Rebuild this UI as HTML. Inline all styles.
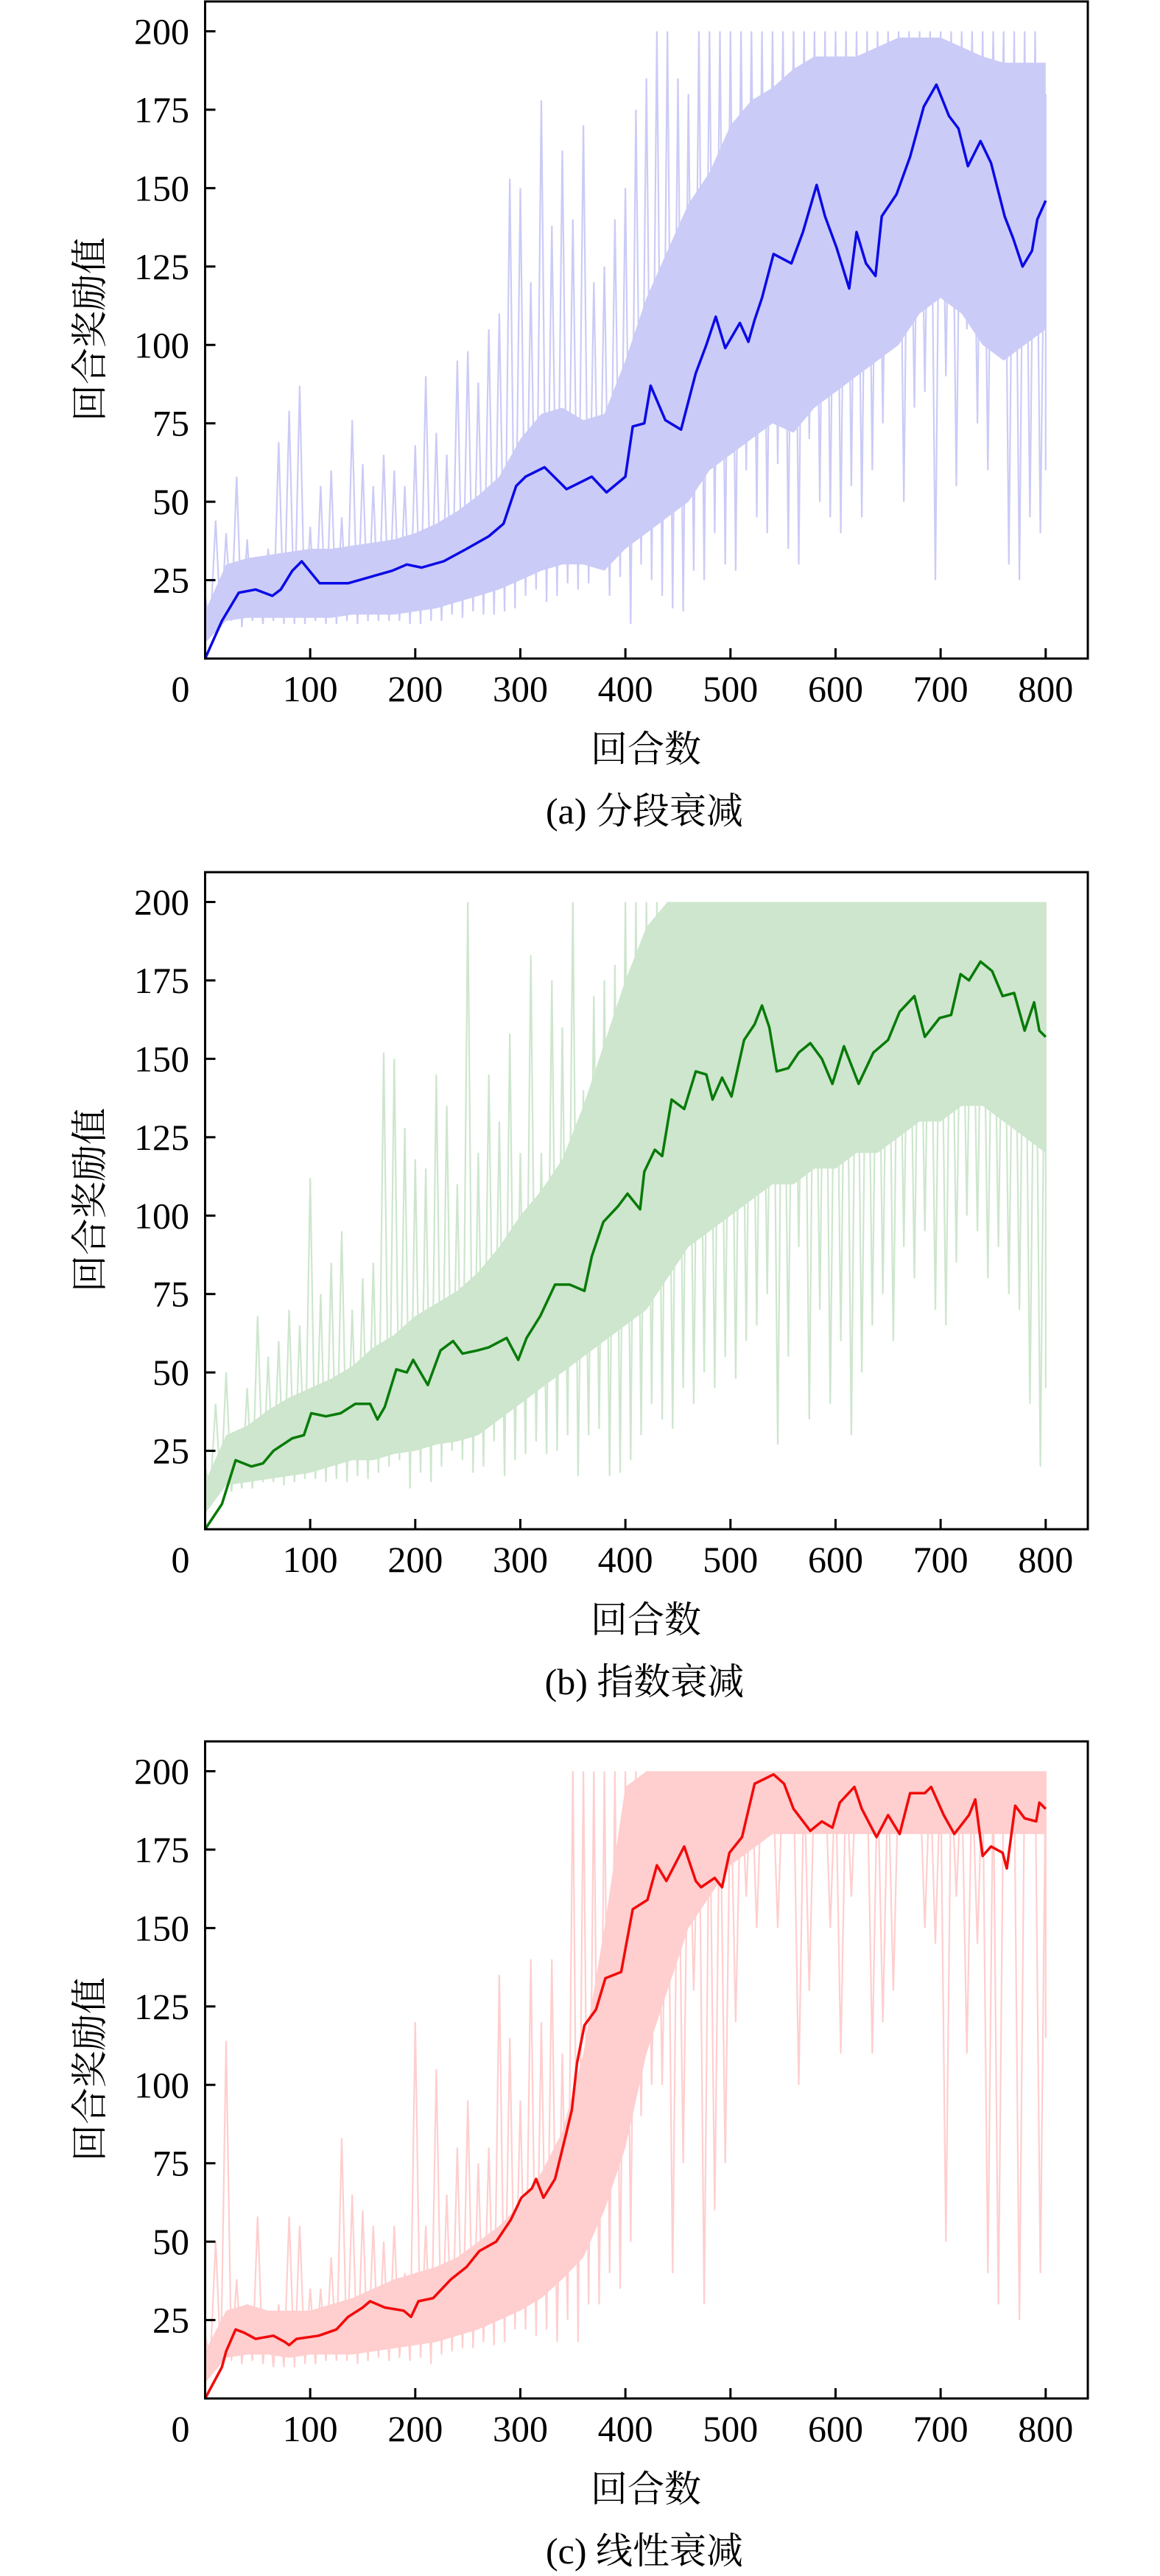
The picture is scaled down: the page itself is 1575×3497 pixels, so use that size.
<!DOCTYPE html>
<html><head><meta charset="utf-8"><style>
html,body{margin:0;padding:0;background:#fff;}
svg{display:block;}
text{font-family:"Liberation Serif","Noto Serif CJK SC","Noto Sans CJK SC",serif;fill:#000;}
</style></head><body>
<svg id="fig" width="1575" height="3497" viewBox="0 0 1575 3497" xmlns="http://www.w3.org/2000/svg"></svg>
<script>
// ---- shared tick data ----
const xTicks = [0,100,200,300,400,500,600,700,800];
const yTicks = [25,50,75,100,125,150,175,200];
const stepEps = [0,10,20,30,40,50,60,70,80,90,100,110,120,130,140,150,160,170,180,190,200,210,220,230,240,250,260,270,280,290,300,310,320,330,340,350,360,370,380,390,400,410,420,430,440,450,460,470,480,490,500,510,520,530,540,550,560,570,580,590,600,610,620,630,640,650,660,670,680,690,700,710,720,730,740,750,760,770,780,790,800];
const bandEps = [0,20,40,60,80,100,120,140,160,180,200,220,240,260,280,300,320,340,360,380,400,420,440,460,480,500,520,540,560,580,600,620,640,660,680,700,720,740,760,780,800];

// ---- chart (a) ----
const aSmoothEps = [0,16,32,48,64,72,83,92,109,136,157,178,192,206,227,249,270,284,296,305,323,344,368,382,400,407,418,424,438,453,467,477,486,495,509,517,523,530,541,558,569,582,590,601,613,620,629,638,644,658,671,684,696,708,717,726,738,748,761,769,778,787,792,800];
const aSmoothVals = [0,12,21,22,20,22,28,31,24,24,26,28,30,29,31,35,39,43,55,58,61,54,58,53,58,74,75,87,76,73,91,100,109,99,107,101,108,115,129,126,136,151,141,131,118,136,126,122,141,148,160,176,183,173,169,157,165,158,141,134,125,130,140,146];
const aBandLo = [5,12,13,13,13,13,13,14,14,14,15,16,18,20,22,25,28,30,30,28,35,40,45,50,60,65,70,75,72,80,85,90,95,100,110,115,110,100,95,100,105];
const aBandHi = [15,30,32,33,34,35,35,36,37,38,40,43,47,52,58,70,78,80,76,78,95,115,130,145,155,170,178,182,188,192,192,192,195,198,198,198,195,192,190,190,190];
const aSpikeHi = [20,44,40,58,38,30,35,69,79,87,42, 55,60,45,76,62,55,65,60,55,68, 90,72,65,95,98,88,105,110,153,150, 120,178,138,162,140,170,120,125,140,150, 175,185,200,200,185,180,200,200,200,200, 200,200,200,200,200,200,200,200,200,200, 200,200,200,200,200,200,200,200,200,200, 200,200,200,200,200,200,200,200,200,180];
const aSpikeLo = [10,10,12,10,12,11,12,11,11,11,12, 11,11,12,11,12,12,12,12,11,11, 12,12,14,13,15,14,14,15,16,20, 22,18,20,24,22,24,30,20,26,11, 30,25,20,16,15,28,25,40,30,28, 60,45,40,62,35,30,70,50,45,40, 55,45,60,75,110,50,80,85,25,90, 55,105,75,60,100,30,25,45,40,60];

// ---- chart (b) ----
const bSmoothEps = [0,16,29,44,55,65,83,94,101,115,129,143,157,164,171,182,192,198,212,224,236,245,259,270,287,298,306,319,333,347,361,368,379,393,402,414,418,428,435,444,456,467,477,483,492,501,513,523,530,537,544,555,565,576,587,597,608,622,636,650,661,675,685,699,710,719,727,738,749,759,770,780,789,794,800];
const bSmoothVals = [0,8,22,20,21,25,29,30,37,36,37,40,40,35,39,51,50,54,46,57,60,56,57,58,61,54,61,68,78,78,76,87,98,103,107,102,114,121,119,137,134,146,145,137,144,138,156,161,167,160,146,147,152,155,150,142,154,142,152,156,165,170,157,163,164,177,175,181,178,170,171,159,168,159,157];
const bBandLo = [5,14,15,16,17,18,20,22,22,24,25,27,28,30,35,40,45,50,55,60,65,70,80,90,95,100,105,110,110,115,115,120,120,125,130,130,135,135,130,125,120];
const bBandHi = [15,30,33,38,42,45,48,52,58,62,68,72,76,82,90,100,108,118,135,155,175,192,200,200,200,200,200,200,200,200,200,200,200,200,200,200,200,200,200,200,200];
const bSpikeHi = [20,40,50,30,45,68,55,60,70,65,112, 75,85,95,70,80,85,152,150,128,118, 115,145,135,110,200,120,145,130,158,120, 183,120,175,160,200,140,170,175,180,200, 200,200,200,200,200,200,200,200,200,200, 200,200,200,200,200,200,200,200,200,200, 200,200,200,200,200,200,200,200,200,200, 200,200,200,200,200,200,200,200,200,200];
const bSpikeLo = [12,12,12,13,13,15,15,14,15,16,16, 15,16,15,17,16,18,20,22,13,18, 15,20,25,22,18,20,28,17,22,24, 28,24,25,30,17,30,32,17,18,22, 30,40,35,32,45,40,50,45,55,48, 60,65,75,27,55,90,35,70,40,60, 30,50,65,75,60,90,80,95,70,65, 85,100,95,80,90,75,70,40,20,45];

// ---- chart (c) ----
const cSmoothEps = [0,16,20,29,37,48,65,76,80,87,108,125,136,150,157,171,189,196,203,217,234,249,261,277,291,301,311,315,322,333,344,349,354,361,372,381,396,407,421,430,439,456,467,472,485,492,499,511,523,541,551,560,576,587,597,604,618,625,639,650,661,671,685,691,703,713,727,733,740,748,759,763,771,780,791,794,800];
const cSmoothVals = [0,10,15,22,21,19,20,18,17,19,20,22,26,29,31,29,28,26,31,32,38,42,47,50,57,64,67,70,64,70,85,92,107,119,124,134,136,156,159,170,165,176,165,163,166,163,174,179,196,199,196,188,181,184,182,190,195,188,179,186,180,193,193,195,186,180,186,191,173,176,174,169,189,185,184,190,188];
const cBandLo = [5,13,14,14,13,14,14,14,15,16,17,18,20,22,25,28,32,38,45,60,80,110,130,150,160,170,175,180,180,180,180,180,180,180,180,180,180,180,180,180,180];
const cBandHi = [15,28,30,28,28,28,30,32,35,38,40,42,45,50,55,62,72,85,110,150,195,200,200,200,200,200,200,200,200,200,200,200,200,200,200,200,200,200,200,200,200];
const cSpikeHi = [20,50,114,38,30,58,28,30,58,55,35, 35,45,83,65,60,55,50,55,40,120, 55,105,65,80,95,75,80,135,115,95, 140,120,140,110,200,200,200,200,200,200, 200,200,200,200,200,200,200,200,200,200, 200,200,200,200,200,200,200,200,200,200, 200,200,200,200,200,200,200,200,200,200, 200,200,200,200,200,200,200,200,200,200];
const cSpikeLo = [12,12,12,11,12,11,10,10,10,11,11, 12,12,12,11,12,13,12,13,12,13, 11,14,15,16,16,18,17,18,22,22, 20,22,18,25,18,30,30,40,35,50, 90,100,100,40,75,130,30,60,75,120, 160,150,180,150,180,100,130,185,150,110, 160,180,110,120,130,185,180,150,145,50, 160,110,145,40,30,180,25,185,40,115];

const NS = "http://www.w3.org/2000/svg";
const FONT = '"Liberation Serif", "Noto Serif CJK SC", "Noto Sans CJK SC", serif';
const svg = document.getElementById('fig');
function mk(tag, attrs, parent){
  const e = document.createElementNS(NS, tag);
  for (const k in attrs) e.setAttribute(k, attrs[k]);
  if (tag === 'text') e.setAttribute('font-family', FONT);
  parent.appendChild(e);
  return e;
}

function drawChart(off, key, caption, rawColor, lineColor, sEps, sVals, bLo, bHi, spHi, spLo){
  const L = 278.5, R = 1477, T = 2 + off, B = 894 + off;
  const xS = ep => L + ep * 1.4266;
  const yS = v => B - v * 4.2575;
  const g = mk('g', {}, svg);
  
  

  let d = '';
  for (let i = 0; i < bandEps.length; i++) d += (i ? 'L' : 'M') + xS(bandEps[i]).toFixed(1) + ',' + yS(bHi[i]).toFixed(1);
  for (let i = bandEps.length - 1; i >= 0; i--) d += 'L' + xS(bandEps[i]).toFixed(1) + ',' + yS(bLo[i]).toFixed(1);
  const band = mk('path', {d: d + 'Z', fill: rawColor, stroke: 'none'}, g);
  
  

  let p = '';
  for (let i = 0; i < stepEps.length; i++) {
    const e0 = stepEps[i];
    p += (i ? 'L' : 'M') + xS(e0).toFixed(1) + ',' + yS(spHi[i]).toFixed(1);
    const e1 = Math.min(e0 + 5, 800);
    p += 'L' + xS(e1).toFixed(1) + ',' + yS(spLo[i]).toFixed(1);
  }
  const raw = mk('path', {d: p, fill: 'none', stroke: rawColor, 'stroke-width': 2.2, 'stroke-linejoin': 'miter'}, g);
  
  

  let s = '';
  for (let i = 0; i < sEps.length; i++) s += (i ? 'L' : 'M') + xS(sEps[i]).toFixed(1) + ',' + yS(sVals[i]).toFixed(1);
  const sm = mk('path', {d: s, fill: 'none', stroke: lineColor, 'stroke-width': 3.5, 'stroke-linejoin': 'round'}, g);
  
  

  const fr = mk('rect', {x: L, y: T, width: R - L, height: B - T, fill: 'none', stroke: '#000', 'stroke-width': 3}, g);
  
  

  yTicks.forEach(v => {
    const y = yS(v);
    const t = mk('line', {x1: L, x2: L + 14, y1: y, y2: y, stroke: '#000', 'stroke-width': 3}, g);
    
    
    const lb = mk('text', {x: 257, y: y + 17, 'font-size': 50, 'text-anchor': 'end'}, g);
    lb.textContent = v;
    
    
  });
  xTicks.forEach(v => {
    const x = xS(v);
    if (v > 0) {
      const t = mk('line', {x1: x, x2: x, y1: B, y2: B - 14, stroke: '#000', 'stroke-width': 3}, g);
      
      
    }
    const lb = mk('text', {x: v === 0 ? 245 : x, y: 952 + off, 'font-size': 50, 'text-anchor': 'middle'}, g);
    lb.textContent = v;
    
    
  });
  const xt = mk('text', {x: 877, y: 1034 + off, 'font-size': 50, 'text-anchor': 'middle'}, g);
  xt.textContent = '回合数';
  
  
  const yt = mk('text', {x: 0, y: 0, 'font-size': 50, 'text-anchor': 'middle', transform: 'translate(139,' + (447 + off) + ') rotate(-90)'}, g);
  yt.textContent = '回合奖励值';
  
  
  const cp = mk('text', {x: 875, y: 1118 + off, 'font-size': 50, 'text-anchor': 'middle'}, g);
  cp.textContent = caption;
  
  
}

drawChart(0, 'a', '(a)  分段衰减', '#cbcbf7', '#0a0ae6', aSmoothEps, aSmoothVals, aBandLo, aBandHi, aSpikeHi, aSpikeLo);
drawChart(1182, 'b', '(b)  指数衰减', '#cde6cd', '#087a08', bSmoothEps, bSmoothVals, bBandLo, bBandHi, bSpikeHi, bSpikeLo);
drawChart(2362, 'c', '(c)  线性衰减', '#ffcece', '#f20a0a', cSmoothEps, cSmoothVals, cBandLo, cBandHi, cSpikeHi, cSpikeLo);
</script>
</body></html>
